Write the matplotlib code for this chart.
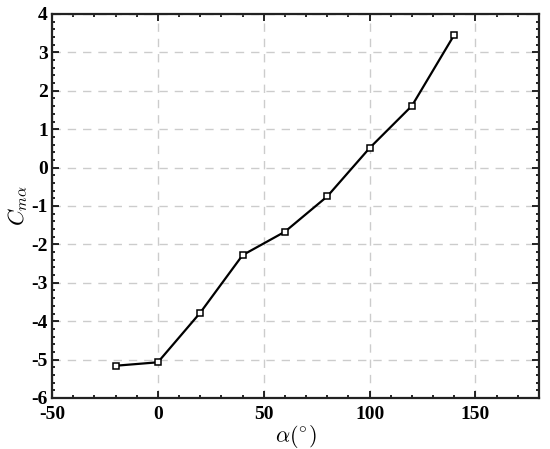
import matplotlib
matplotlib.use('Agg')
import matplotlib.pyplot as plt
from matplotlib.ticker import MultipleLocator

alpha = [-20, 0, 20, 40, 60, 80, 100, 120, 140]
cma = [-5.16, -5.07, -3.78, -2.28, -1.67, -0.75, 0.51, 1.61, 3.46]

plt.rcParams['font.family'] = ['Liberation Serif', 'DejaVu Serif']
plt.rcParams['mathtext.fontset'] = 'cm'
plt.rcParams['axes.unicode_minus'] = False

fig = plt.figure(figsize=(5.5, 4.49), dpi=100)
ax = fig.add_axes([52 / 550, 1 - 398 / 449, (539 - 52) / 550, (398 - 14) / 449])

ax.plot(alpha, cma, color='black', linewidth=1.6, marker='s', markersize=4.5,
        markerfacecolor='white', markeredgecolor='black', markeredgewidth=1.1)

ax.set_xlim(-50, 180)
ax.set_ylim(-6, 4)
ax.xaxis.set_major_locator(MultipleLocator(50))
ax.xaxis.set_minor_locator(MultipleLocator(10))
ax.yaxis.set_major_locator(MultipleLocator(1))
ax.yaxis.set_minor_locator(MultipleLocator(0.2))
ax.tick_params(which='both', direction='in', top=True, right=True, width=1.2)
ax.tick_params(which='major', length=5, labelsize=14)
ax.tick_params(axis='x', which='major', pad=6)
ax.tick_params(axis='y', which='major', pad=3)
ax.tick_params(which='minor', length=2.5)
for lab in ax.get_xticklabels() + ax.get_yticklabels():
    lab.set_fontweight('bold')
for s in ax.spines.values():
    s.set_linewidth(1.6)
    s.set_color('#222222')

ax.grid(True, which='major', linestyle=(0, (6, 5)), color='#cccccc', linewidth=1)
ax.set_axisbelow(True)

ax.set_xlabel(r'$\alpha(^{\circ})$', fontsize=16, labelpad=0)
ax.set_ylabel(r'$C_{m\alpha}$', fontsize=16, labelpad=1)

fig.savefig('out.png', dpi=100)
